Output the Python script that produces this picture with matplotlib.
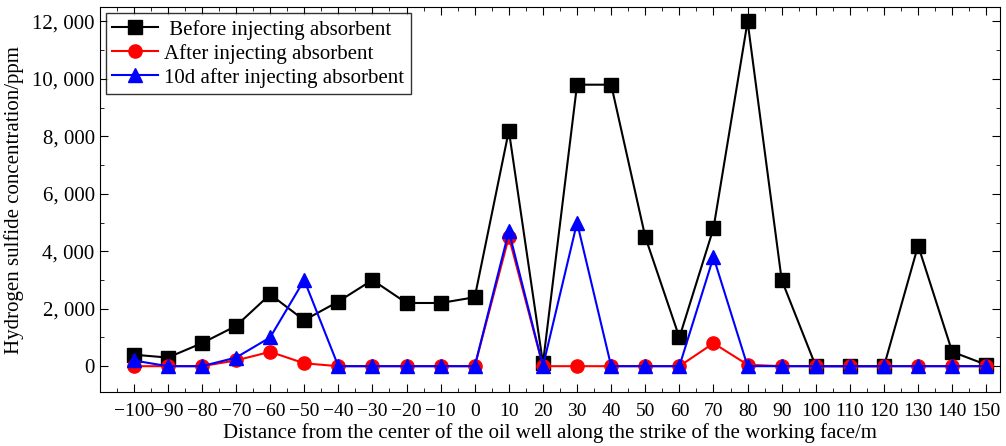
import matplotlib
matplotlib.use("Agg")
import matplotlib.pyplot as plt
from matplotlib.ticker import FuncFormatter, MultipleLocator

plt.rcParams["font.family"] = ["Liberation Serif", "DejaVu Serif"]
plt.rcParams["mathtext.fontset"] = "stix"

distance = [-100, -90, -80, -70, -60, -50, -40, -30, -20, -10, 0, 10, 20,
            30, 40, 50, 60, 70, 80, 90, 100, 110, 120, 130, 140, 150]
before = [400, 300, 800, 1400, 2500, 1600, 2250, 3000, 2200, 2200, 2400, 8200, 100,
          9800, 9800, 4500, 1000, 4800, 12000, 3000, 0, 0, 0, 4200, 500, 50]
after = [0, 0, 0, 200, 500, 100, 0, 0, 0, 0, 0, 4500, 0,
         0, 0, 0, 0, 800, 50, 0, 0, 0, 0, 0, 0, 0]
after10d = [200, 0, 0, 300, 1000, 3000, 0, 0, 0, 0, 0, 4700, 0,
            5000, 0, 0, 0, 3800, 0, 0, 0, 0, 0, 0, 0, 0]

fig = plt.figure(figsize=(10.06, 4.46), dpi=100)
ax = fig.add_axes([0.099, 0.121, 0.895, 0.863])

ax.plot(distance, before, color="black", lw=1.5, marker="s", ms=9.5,
        label=" Before injecting absorbent")
ax.plot(distance, after, color="red", lw=1.5, marker="o", ms=9.5,
        label="After injecting absorbent")
ax.plot(distance, after10d, color="blue", lw=1.5, marker="^", ms=10.5,
        label="10d after injecting absorbent")

ax.set_xlim(-110, 154)
ax.set_ylim(-900, 12500)
ax.set_xticks(distance)
ax.xaxis.set_minor_locator(MultipleLocator(5))
ax.yaxis.set_major_locator(MultipleLocator(2000))
ax.yaxis.set_minor_locator(MultipleLocator(1000))
ax.yaxis.set_major_formatter(FuncFormatter(lambda v, p: f"{int(v):,}".replace(",", ", ")))
ax.tick_params(which="both", direction="in", top=True, right=True, labelsize=15)
ax.tick_params(axis="x", labelsize=14, pad=8)
ax.tick_params(which="major", length=6)
ax.tick_params(which="minor", length=3)

ax.set_xlabel("Distance from the center of the oil well along the strike of the working face/m",
              fontsize=15, labelpad=2)
ax.set_ylabel("Hydrogen sulfide concentration/ppm", fontsize=15, labelpad=6)

leg = ax.legend(loc="upper left", fontsize=15, frameon=True, fancybox=False,
                edgecolor="black", borderaxespad=0.3, handlelength=2.2,
                handletextpad=0.3, labelspacing=0.2, borderpad=0.3)
leg.get_frame().set_linewidth(1.0)

fig.savefig("out.png", dpi=100)
